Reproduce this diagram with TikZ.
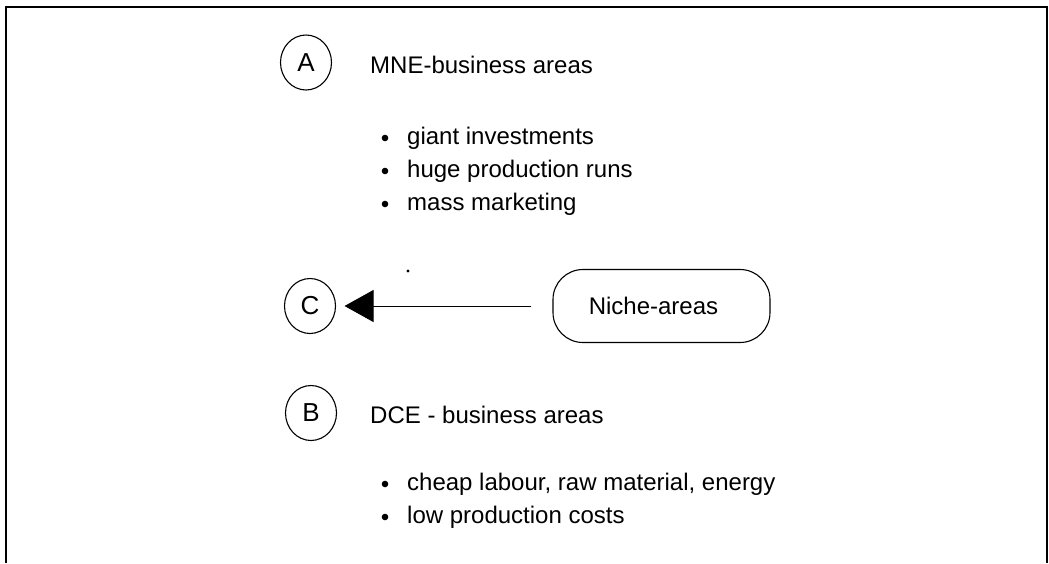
\documentclass[tikz,border=0pt]{standalone}
\usepackage{fontspec}
\setmainfont{Liberation Sans}
\usetikzlibrary{arrows.meta,shapes.geometric}
\begin{document}
\begin{tikzpicture}[x=1pt,y=-1pt,
  lbl/.style={ellipse,draw,line width=1.1pt,minimum width=51pt,minimum height=55pt,inner sep=0pt,font=\fontsize{26}{30}\selectfont},
  txt/.style={anchor=base west,inner sep=0pt,font=\fontsize{24}{28}\selectfont},
  bul/.style={fill=black},
  niche/.style={draw,line width=1.1pt,rounded corners=30pt,minimum width=217pt,minimum height=73pt,inner sep=0pt,font=\fontsize{24}{28}\selectfont},
  conn/.style={line width=1pt,-{Triangle[length=29pt,width=32pt]}}
]
\useasboundingbox (0,0) rectangle (1049,563);
% frame (open at the bottom)
\draw[line width=1.6pt] (6,563) -- (6,7) -- (1047,7) -- (1047,563);
\draw[line width=2.4pt] (6,7) -- (1047,7);

% A block
\node[lbl] (A) at (306,62.5) {A};
\node[txt] (Atitle) at (370,73) {MNE-business areas};
\node[txt] (a1) at (407,144) {giant investments};
\node[txt] (a2) at (407,177) {huge production runs};
\node[txt] (a3) at (407,210) {mass marketing};
\fill[bul] (385,138) circle (3.3);
\fill[bul] (385,171) circle (3.3);
\fill[bul] (385,204) circle (3.3);

% stray dot
\fill (408,271) circle (1.6);

% C and niche
\node[lbl] (C) at (310,306) {C};
\node[niche] (N) at (661.5,306) {Niche-areas\hspace*{16pt}};
\draw[conn,shorten <=21pt,shorten >=8.5pt] (N) -- (C);

% B block
\node[lbl] (B) at (311,413) {B};
\node[txt] (Btitle) at (370,423) {DCE - business areas};
\node[txt] (b1) at (407,490) {cheap labour, raw material, energy};
\node[txt] (b2) at (407,523) {low production costs};
\fill[bul] (385,484) circle (3.3);
\fill[bul] (385,517) circle (3.3);
\end{tikzpicture}
\end{document}
